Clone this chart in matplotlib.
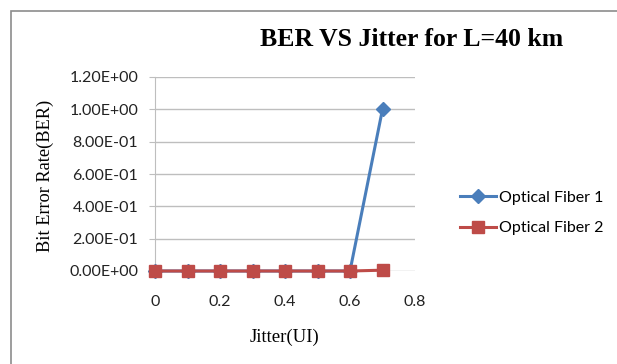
import matplotlib
matplotlib.use("Agg")
import matplotlib.pyplot as plt
from matplotlib.lines import Line2D
from matplotlib.patches import Rectangle

jitter = [0, 0.1, 0.2, 0.3, 0.4, 0.5, 0.6, 0.7]
fiber1 = [0, 0, 0, 0, 0, 0, 0, 1.0]
fiber2 = [0, 0, 0, 0, 0, 0, 0, 0.005]
series_names = ["Optical Fiber 1", "Optical Fiber 2"]
y_ticks = [0, 0.2, 0.4, 0.6, 0.8, 1.0, 1.2]
x_ticks = [0, 0.2, 0.4, 0.6, 0.8]

blue = "#4A7EBB"
red = "#BE4B48"
grid_c = "#BEBEBE"

fig = plt.figure(figsize=(6.17, 3.64), dpi=100)
fig.patch.set_facecolor("white")

# chart frame
fig.add_artist(Rectangle((11 / 617, -0.05), 1.2, 1 - 11 / 364 + 0.05,
                         transform=fig.transFigure, fill=False,
                         edgecolor="#8C8C8C", linewidth=1.2))

ax = fig.add_axes([155 / 617, 1 - 271 / 364, (415 - 155) / 617, (271 - 77) / 364])
ax.set_xlim(0, 0.8)
ax.set_ylim(0, 1.2)
ax.set_yticks(y_ticks)
ax.set_xticks(x_ticks)
ax.yaxis.grid(True, color=grid_c, linewidth=1.0)
ax.set_axisbelow(True)
for s in ["top", "right", "bottom"]:
    ax.spines[s].set_visible(False)
ax.spines["left"].set_color(grid_c)
ax.tick_params(axis="y", length=4, color=grid_c, pad=8)
ax.tick_params(axis="x", length=0, pad=17)

tick_font = dict(family="Lato", size=11.5, color="#222222")
ax.set_yticklabels(["%.2E" % v for v in y_ticks], **tick_font)
ax.set_xticklabels(["0" if v == 0 else "%g" % v for v in x_ticks], **tick_font)

ax.plot(jitter, fiber1, color=blue, linewidth=2.2, marker="D", markersize=7,
        clip_on=False, zorder=3, label=series_names[0])
ax.plot(jitter, fiber2, color=red, linewidth=2.2, marker="s", markersize=9,
        clip_on=False, zorder=4, label=series_names[1])

serif = "Liberation Serif"
fig.text(412 / 617, 1 - 39 / 364, "BER VS Jitter for L=40 km", family=serif,
         fontsize=18.5, fontweight="bold", ha="center", va="center")
fig.text(45 / 617, 1 - 176 / 364, "Bit Error Rate(BER)", family=serif,
         fontsize=13.2, rotation=90, ha="center", va="center")
fig.text(285 / 617, 1 - 337 / 364, "Jitter(UI)", family=serif,
         fontsize=13.5, ha="center", va="center")

handles = [Line2D([], [], color=blue, linewidth=2.2, marker="D", markersize=7),
           Line2D([], [], color=red, linewidth=2.2, marker="s", markersize=9)]
fig.legend(handles, series_names, loc="center left",
           bbox_to_anchor=(446 / 617, 1 - 213 / 364), frameon=False,
           prop=dict(family="Lato", size=11.5), handlelength=2.2,
           handletextpad=0.2, labelspacing=1.0)

fig.savefig("out.png", dpi=100, facecolor="white")
